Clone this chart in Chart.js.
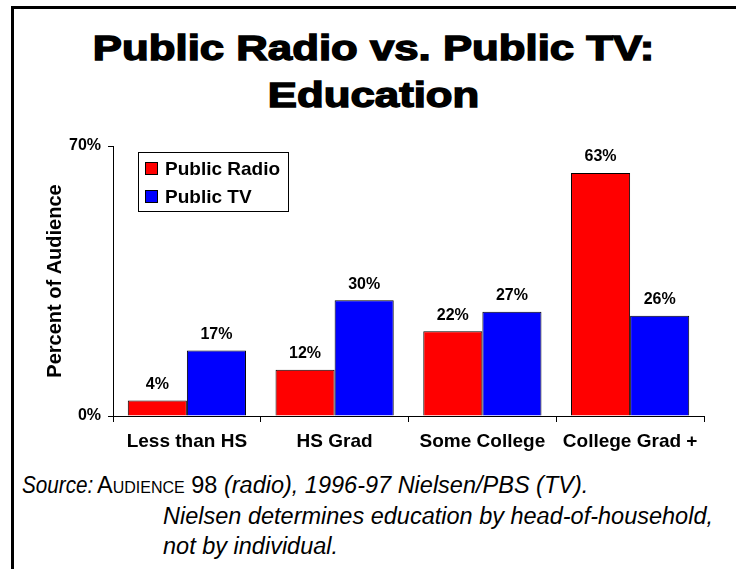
<!DOCTYPE html>
<html lang="en">

<head>
    <meta charset="UTF-8">
    <title>Public Radio vs. Public TV: Education</title>
    <script src="https://cdn.jsdelivr.net/npm/chart.js"></script>
    <style>
        body,
        html {
            margin: 0;
            width: 736px;
            height: 569px;
            overflow: hidden;
            background: #fff;
            font-family: "Liberation Sans", Arial, sans-serif;
            color: #000;
        }

        #frame {
            position: absolute;
            left: 11px;
            top: 6px;
            width: 725px;
            height: 563px;
            border-top: 3px solid #000;
            border-left: 3px solid #000;
        }

        .title {
            position: absolute;
            left: 11px;
            width: 725px;
            text-align: center;
            font-weight: bold;
            font-size: 35px;
            line-height: 35px;
            white-space: nowrap;
        }

        .title span {
            display: inline-block;
            transform: scaleX(1.25);
            -webkit-text-stroke: 1.4px #000;
        }

        .src {
            position: absolute;
            font-size: 23.5px;
            line-height: 24px;
            white-space: nowrap;
            font-style: italic;
        }

        .up {
            font-style: normal;
        }

        #chart {
            position: absolute;
            left: 0;
            top: 120px;
        }
    </style>
</head>

<body>
    <div id="frame"></div>
    <div class="title" style="top:30px"><span>Public Radio vs. Public TV:</span></div>
    <div class="title" style="top:77px"><span>Education</span></div>
    <canvas id="chart" width="736" height="350"></canvas>
    <div class="src" style="left:22px; top:473px; transform: scaleX(0.88); transform-origin: 0 0;">Source:</div>
    <div class="src" style="left:97px; top:473px"><span class="up">A<span style="font-variant: small-caps;">udience</span> 98</span> (radio), 1996-97 Nielsen/PBS (TV).</div>
    <div class="src" style="left:163px; top:504px">Nielsen determines education by head-of-household,</div>
    <div class="src" style="left:163px; top:534px">not by individual.</div>
    <script>
        const categories = ['Less than HS', 'HS Grad', 'Some College', 'College Grad +'];
        const radioValues = [4, 12, 22, 63];
        const tvValues = [17, 30, 27, 26];
        const yTicks = [0, 70];

        // value labels above each bar
        const valueLabels = {
            id: 'valueLabels',
            afterDatasetsDraw(chart) {
                const ctx = chart.ctx;
                ctx.save();
                ctx.font = 'bold 16px "Liberation Sans", Arial, sans-serif';
                ctx.fillStyle = '#000';
                ctx.textAlign = 'center';
                ctx.textBaseline = 'middle';
                chart.data.datasets.forEach((ds, i) => {
                    chart.getDatasetMeta(i).data.forEach((bar, j) => {
                        ctx.fillText(ds.data[j] + '%', bar.x, bar.y - 16);
                    });
                });
                ctx.restore();
            }
        };

        // boxed legend inside the plot
        const boxLegend = {
            id: 'boxLegend',
            afterDraw(chart) {
                const ctx = chart.ctx;
                const a = chart.chartArea;
                const x = Math.round(a.left) + 25, y = Math.round(a.top) + 6;
                ctx.save();
                ctx.strokeStyle = '#000';
                ctx.lineWidth = 1;
                ctx.fillStyle = '#fff';
                ctx.fillRect(x, y, 150, 59);
                ctx.strokeRect(x + 0.5, y + 0.5, 150, 59);
                ctx.font = 'bold 19px "Liberation Sans", Arial, sans-serif';
                ctx.textBaseline = 'alphabetic';
                chart.data.datasets.forEach((ds, i) => {
                    const ry = y + 10 + i * 28;
                    ctx.fillStyle = ds.backgroundColor;
                    ctx.fillRect(x + 7, ry, 13, 13);
                    ctx.strokeRect(x + 7.5, ry + 0.5, 12, 12);
                    ctx.fillStyle = '#000';
                    ctx.fillText(ds.label, x + 27, ry + 13);
                });
                ctx.restore();
            }
        };

        new Chart(document.getElementById('chart'), {
            type: 'bar',
            data: {
                labels: categories,
                datasets: [{
                    label: 'Public Radio',
                    data: radioValues,
                    backgroundColor: '#ff0000',
                    borderColor: '#000',
                    borderWidth: 1
                }, {
                    label: 'Public TV',
                    data: tvValues,
                    backgroundColor: '#0000ff',
                    borderColor: '#000',
                    borderWidth: 1
                }]
            },
            options: {
                responsive: false,
                animation: false,
                barPercentage: 1,
                categoryPercentage: 0.8,
                layout: { padding: { top: 26, right: 32, bottom: 0, left: 0 } },
                plugins: {
                    legend: { display: false },
                    tooltip: { enabled: false }
                },
                scales: {
                    x: {
                        grid: { drawOnChartArea: false, tickLength: 6, color: '#000' },
                        border: { color: '#000' },
                        ticks: {
                            color: '#000',
                            padding: 8,
                            font: { family: '"Liberation Sans", Arial, sans-serif', size: 19, weight: 'bold' }
                        },
                        afterFit: s => { s.height = 54; }
                    },
                    y: {
                        min: 0,
                        max: 70,
                        afterBuildTicks: s => { s.ticks = yTicks.map(v => ({ value: v })); },
                        grid: { drawOnChartArea: false, tickLength: 5, color: '#000' },
                        border: { color: '#000' },
                        ticks: {
                            color: '#000',
                            padding: 7,
                            callback: v => v + '%',
                            font: { family: '"Liberation Sans", Arial, sans-serif', size: 16, weight: 'bold' }
                        },
                        title: {
                            display: true,
                            text: 'Percent of Audience',
                            color: '#000',
                            padding: { top: 43, bottom: 0 },
                            font: { family: '"Liberation Sans", Arial, sans-serif', size: 20, weight: 'bold' }
                        },
                        afterFit: s => { s.width = 113; }
                    }
                }
            },
            plugins: [valueLabels, boxLegend]
        });
    </script>
</body>

</html>
